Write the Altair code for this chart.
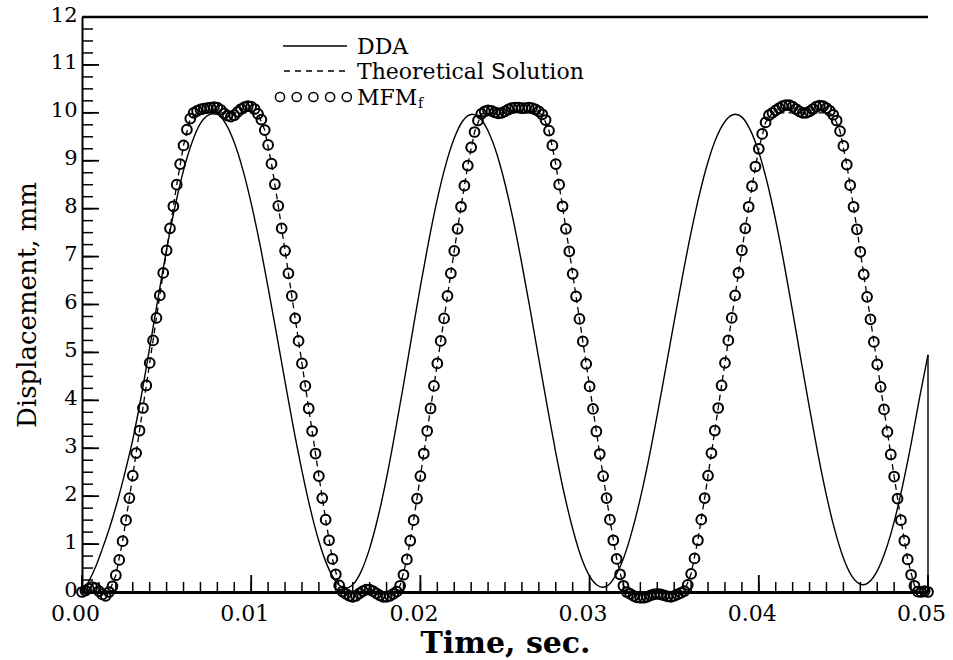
import altair as alt
import pandas as pd

# ---------------- data ----------------
# DDA (solid line): time (s) and displacement (mm)
DDA_T = [0.0, 0.0004, 0.0008, 0.0012, 0.0017, 0.0021, 0.0026, 0.0030, 0.0035, 0.0040,
         0.0045, 0.0050, 0.0055, 0.0060, 0.0065, 0.0070, 0.00774,
         0.0080, 0.0085, 0.0090, 0.0095, 0.0100, 0.0105, 0.0110, 0.0115, 0.0120,
         0.0125, 0.0130, 0.0135, 0.0140, 0.0145, 0.0150, 0.0156,
         0.0160, 0.0165, 0.0170, 0.0175, 0.0180, 0.0185, 0.0190, 0.0195, 0.0200,
         0.0205, 0.0210, 0.0215, 0.0220, 0.0225, 0.02308,
         0.0235, 0.0240, 0.0245, 0.0250, 0.0255, 0.0260, 0.0265, 0.0270, 0.0275,
         0.0280, 0.0285, 0.0290, 0.0295, 0.0300, 0.0305, 0.03075,
         0.0310, 0.0315, 0.0320, 0.0325, 0.0330, 0.0335, 0.0340, 0.0345, 0.0350,
         0.0355, 0.0360, 0.0365, 0.0370, 0.0375, 0.0380, 0.03862,
         0.0390, 0.0395, 0.0400, 0.0405, 0.0410, 0.0415, 0.0420, 0.0425, 0.0430,
         0.0435, 0.0440, 0.0445, 0.0450, 0.0455, 0.04616,
         0.0465, 0.0470, 0.0475, 0.0480, 0.0485, 0.0490, 0.0495, 0.0500]
DDA_V = [0.0, 0.22, 0.52, 0.90, 1.42, 1.90, 2.58, 3.18, 4.08, 5.10,
         6.15, 7.15, 8.05, 8.80, 9.38, 9.78, 9.98,
         9.97, 9.77, 9.38, 8.82, 8.11, 7.28, 6.35, 5.38, 4.39,
         3.42, 2.53, 1.73, 1.06, 0.55, 0.22, 0.08,
         0.15, 0.43, 0.91, 1.57, 2.38, 3.32, 4.32, 5.36, 6.38,
         7.34, 8.20, 8.92, 9.47, 9.83, 9.97,
         9.90, 9.62, 9.16, 8.52, 7.74, 6.84, 5.87, 4.86, 3.87,
         2.91, 2.05, 1.32, 0.73, 0.33, 0.13, 0.10,
         0.12, 0.32, 0.70, 1.26, 1.96, 2.78, 3.70, 4.67, 5.65,
         6.61, 7.51, 8.31, 8.98, 9.49, 9.82, 9.97,
         9.91, 9.64, 9.18, 8.54, 7.75, 6.84, 5.85, 4.83, 3.83,
         2.87, 2.01, 1.28, 0.71, 0.33, 0.15,
         0.20, 0.44, 0.87, 1.47, 2.22, 3.09, 4.05, 4.95]

# MFM_f (open circles), sampled every 0.0002 s from t = 0
MFM_STEP = 0.0002
MFM_V = [0.00, 0.03, 0.07, 0.10, 0.08, 0.02, -0.05, -0.08,
         0.00, 0.12, 0.35, 0.67, 1.06, 1.50, 1.96, 2.43, 2.90, 3.37, 3.84, 4.31, 4.78,
         5.25, 5.72, 6.19, 6.66, 7.13, 7.59, 8.05, 8.50, 8.93, 9.32, 9.65, 9.88, 10.00,
         10.04, 10.07, 10.09, 10.10, 10.11, 10.12, 10.11, 10.06, 9.99, 9.94, 9.92, 9.95,
         10.02, 10.08, 10.12, 10.14, 10.13, 10.08,
         9.98, 9.86, 9.64, 9.33, 8.94, 8.51, 8.06, 7.59, 7.12, 6.65, 6.18, 5.71, 5.24,
         4.77, 4.30, 3.83, 3.36, 2.89, 2.42, 1.96, 1.51, 1.08, 0.69, 0.37, 0.14, 0.01,
         -0.04, -0.08, -0.10, -0.08, -0.03, 0.02, 0.05, 0.05, 0.02, -0.03, -0.07, -0.10,
         -0.10, -0.08, -0.04,
         0.01, 0.13, 0.36, 0.68, 1.07, 1.50, 1.95, 2.42, 2.89, 3.36, 3.83, 4.30, 4.77,
         5.24, 5.71, 6.18, 6.65, 7.12, 7.58, 8.04, 8.48, 8.90, 9.28, 9.60, 9.84, 9.98,
         10.03, 10.05, 10.04, 10.01, 9.99, 10.00, 10.03, 10.07, 10.10, 10.11, 10.11, 10.10,
         10.10, 10.11, 10.10, 10.07, 10.03,
         9.97, 9.85, 9.63, 9.32, 8.93, 8.50, 8.05, 7.58, 7.11, 6.64, 6.17, 5.70, 5.23,
         4.76, 4.29, 3.82, 3.35, 2.88, 2.42, 1.96, 1.51, 1.08, 0.69, 0.37, 0.13, 0.00,
         -0.04, -0.08, -0.11, -0.12, -0.12, -0.10, -0.07, -0.05, -0.04, -0.05, -0.07, -0.09,
         -0.10, -0.08, -0.05, -0.02,
         0.02, 0.15, 0.38, 0.70, 1.08, 1.51, 1.96, 2.43, 2.90, 3.37, 3.84, 4.31, 4.78,
         5.25, 5.72, 6.19, 6.66, 7.13, 7.59, 8.04, 8.47, 8.88, 9.25, 9.56, 9.80, 9.95,
         10.00, 10.05, 10.10, 10.14, 10.16, 10.16, 10.13, 10.08, 10.03, 10.00, 10.00, 10.03,
         10.08, 10.13, 10.15, 10.14, 10.10, 10.04,
         9.96, 9.84, 9.62, 9.31, 8.92, 8.49, 8.04, 7.57, 7.10, 6.63, 6.16, 5.69, 5.22,
         4.75, 4.28, 3.81, 3.34, 2.87, 2.41, 1.95, 1.50, 1.07, 0.68, 0.36, 0.13, 0.01,
         0.00, 0.02, 0.00]

# Theoretical solution (dashed), sampled every 0.0004 s from t = 0
THEORY_STEP = 0.0004
THEORY_V = [0, 0, 0, 0,
            0.00, 0.35, 1.06, 1.96, 2.90, 3.84, 4.78, 5.72, 6.66, 7.59, 8.50, 9.32, 9.88,
            10, 10, 10, 10, 10, 10, 10, 10, 10,
            9.98, 9.64, 8.94, 8.06, 7.12, 6.18, 5.24, 4.30, 3.36, 2.42, 1.51, 0.69, 0.14, 0,
            0, 0, 0, 0, 0, 0, 0,
            0.13, 0.68, 1.50, 2.42, 3.36, 4.30, 5.24, 6.18, 7.12, 8.04, 8.90, 9.60, 9.98,
            10, 10, 10, 10, 10, 10, 10, 10,
            9.97, 9.63, 8.93, 8.05, 7.11, 6.17, 5.23, 4.29, 3.35, 2.42, 1.51, 0.69, 0.13,
            0, 0, 0, 0, 0, 0, 0, 0,
            0.02, 0.38, 1.08, 1.96, 2.90, 3.84, 4.78, 5.72, 6.66, 7.59, 8.47, 9.25, 9.80,
            10, 10, 10, 10, 10, 10, 10, 10, 10,
            9.96, 9.62, 8.92, 8.04, 7.10, 6.16, 5.22, 4.28, 3.34, 2.41, 1.50, 0.68, 0.13,
            0, 0]

X_LABELS = [0.0, 0.01, 0.02, 0.03, 0.04, 0.05]
Y_LABELS = list(range(0, 13))
X_MINOR = [round(i * 0.001, 3) for i in range(51)]
Y_MINOR = [i * 0.25 for i in range(49)]
LEGEND_LABELS = ["DDA", "Theoretical Solution", "MFM"]
LEGEND_SUB = "f"

X_TITLE = "Time, sec."
Y_TITLE = "Displacement, mm"

# ---------------- build tables ----------------
dda = pd.DataFrame({"t": DDA_T, "v": DDA_V})
mfm = pd.DataFrame({"t": [round(i * MFM_STEP, 4) for i in range(len(MFM_V))], "v": MFM_V})
theory = pd.DataFrame({"t": [round(i * THEORY_STEP, 4) for i in range(len(THEORY_V))], "v": THEORY_V})

W, H = 846, 575
FONT = "DejaVu Serif"
xs = alt.Scale(domain=[0, 0.05], nice=False, zero=False)
ys = alt.Scale(domain=[0, 12], nice=False, zero=False)

x_axis = alt.Axis(values=X_LABELS, format=".2f", ticks=False, grid=False,
                  domainColor="black", domainWidth=3, labelFont=FONT, labelFontSize=22,
                  labelColor="black", labelPadding=11, labelOffset=-7, labelFlush=False,
                  labelOverlap=False, title=X_TITLE, titleFont=FONT, titleFontSize=30,
                  titleFontWeight=600, titleColor="black", titlePadding=4)
y_axis = alt.Axis(values=Y_LABELS, format="d", ticks=False, grid=False,
                  domainColor="black", domainWidth=2, labelFont=FONT, labelFontSize=21,
                  labelColor="black", labelPadding=5, labelOffset=-2, labelFlush=False,
                  labelOverlap=False, title=Y_TITLE, titleFont=FONT, titleFontSize=26,
                  titleFontWeight="normal", titleColor="black", titlePadding=10)

X = lambda f: alt.X(f, scale=xs, axis=x_axis)
Y = lambda f: alt.Y(f, scale=ys, axis=y_axis)

dda_line = alt.Chart(dda).mark_line(color="black", strokeWidth=1.4,
                                    interpolate="monotone", clip=False).encode(
    x=X("t:Q"), y=Y("v:Q"))

theory_line = alt.Chart(theory).mark_line(color="black", strokeWidth=1.3,
                                          strokeDash=[6, 4], clip=False).encode(
    x=X("t:Q"), y=Y("v:Q"))

mfm_pts = alt.Chart(mfm).mark_point(shape="circle", filled=False, size=95,
                                    strokeWidth=2.0, color="black", opacity=1,
                                    clip=False).encode(
    x=X("t:Q"), y=Y("v:Q"))

# right-hand end of the DDA trace drops to the axis
end_df = pd.DataFrame({"t": [DDA_T[-1]], "v": [0.0], "v2": [DDA_V[-1]]})
end_rule = alt.Chart(end_df).mark_rule(color="black", strokeWidth=1.4).encode(
    x=X("t:Q"), y=Y("v:Q"), y2="v2:Q")

# inward tick marks
def xticks(vals, length, sw):
    return alt.Chart(pd.DataFrame({"t": vals})).mark_rule(color="black", strokeWidth=sw).encode(
        x=X("t:Q"), y=alt.value(H), y2=alt.value(H - length))

def yticks(vals, length, sw):
    return alt.Chart(pd.DataFrame({"v": vals})).mark_rule(color="black", strokeWidth=sw).encode(
        y=Y("v:Q"), x=alt.value(0), x2=alt.value(length))

one = pd.DataFrame({"a": [0]})
top_border = alt.Chart(one).mark_rule(color="black", strokeWidth=2.5).encode(
    x=alt.value(0), x2=alt.value(W), y=alt.value(0))

# legend drawn inside the plot
LX0, LX1, TX = 201, 265, 275
ROWS = [29, 54, 80]
leg_solid = alt.Chart(one).mark_rule(color="black", strokeWidth=1.6).encode(
    x=alt.value(LX0), x2=alt.value(LX1), y=alt.value(ROWS[0]))
leg_dash = alt.Chart(one).mark_rule(color="black", strokeWidth=1.4, strokeDash=[6, 5]).encode(
    x=alt.value(LX0 + 1), x2=alt.value(LX1), y=alt.value(ROWS[1]))
leg_circles = [
    alt.Chart(one).mark_point(shape="circle", filled=False, size=85, strokeWidth=1.5,
                              color="black", opacity=1).encode(
        x=alt.value(198 + 16.7 * k), y=alt.value(ROWS[2]))
    for k in range(5)
]
leg_texts = [
    alt.Chart(one).mark_text(align="left", baseline="middle", font=FONT, fontSize=22,
                             color="black").encode(
        x=alt.value(TX), y=alt.value(ROWS[i] + 1), text=alt.value(lab))
    for i, lab in enumerate(LEGEND_LABELS)
]
leg_sub = alt.Chart(one).mark_text(align="left", baseline="middle", font=FONT, fontSize=14,
                                   color="black").encode(
    x=alt.value(TX + 61), y=alt.value(ROWS[2] + 7), text=alt.value(LEGEND_SUB))

chart = alt.layer(
    dda_line, theory_line, mfm_pts, end_rule,
    xticks(X_MINOR, 10, 1.5), xticks(X_LABELS, 17, 1.8),
    yticks(Y_MINOR, 11, 1.5), yticks(Y_LABELS, 17, 1.8),
    top_border, leg_solid, leg_dash, *leg_circles, *leg_texts, leg_sub,
).properties(
    width=W, height=H,
    autosize=alt.AutoSizeParams(type="none"),
    padding={"left": 82, "top": 17, "right": 25, "bottom": 68},
    background="white",
).configure_view(stroke=None)

chart.save("out.html", embed_options={"renderer": "svg", "actions": False})
